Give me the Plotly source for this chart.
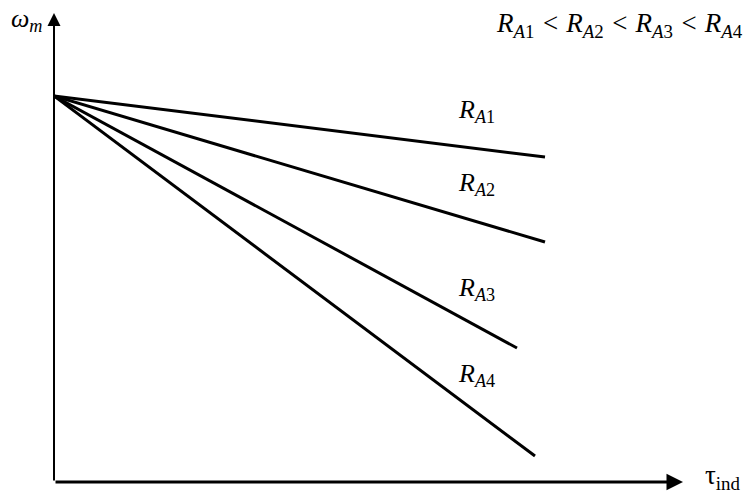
import plotly.graph_objects as go

# speed-torque characteristics of a shunt dc motor for four armature resistances
resistances = ['A1', 'A2', 'A3', 'A4']
tau_start = 0
omega_no_load = 386
tau_end = [491, 491, 463, 481]
omega_end = [325, 240, 134, 26]

# page body has an 8px margin, so the figure is a bit smaller than the window
W, H = 743, 486
ML, MB = 46, 12
x_max = W - ML
y_max = H - MB

serif = 'Liberation Serif'
lbl_font = dict(family=serif, size=26, color='black', style='italic')


def r_label(name):
    # italic A, upright digit, as in the textbook figure
    return ('R<sub>' + name[0] + '<span style="font-style:normal">'
            + name[1:] + '</span></sub>')


fig = go.Figure()
annotations = []

for name, te, we in zip(resistances, tau_end, omega_end):
    fig.add_trace(go.Scatter(
        x=[tau_start, te], y=[omega_no_load, we],
        mode='lines',
        line=dict(color='black', width=3),
        showlegend=False, hoverinfo='skip'
    ))
    # label sits above the line, near its right end
    lx = 422
    slope = (we - omega_no_load) / (te - tau_start)
    ly = omega_no_load + slope * (lx - tau_start) + 37
    annotations.append(dict(x=lx, y=ly, xref='x', yref='y',
                            text=r_label(name),
                            font=lbl_font, showarrow=False,
                            xanchor='center', yanchor='middle'))

# axes drawn as arrows
annotations.append(dict(x=0, y=469, ax=0, ay=0, xref='x', yref='y',
                        axref='x', ayref='y', text='', showarrow=True,
                        arrowhead=2, arrowsize=1.3, arrowwidth=2,
                        arrowcolor='black'))
annotations.append(dict(x=629, y=0, ax=0, ay=0, xref='x', yref='y',
                        axref='x', ayref='y', text='', showarrow=True,
                        arrowhead=2, arrowsize=1.1, arrowwidth=3,
                        arrowcolor='black'))

# axis titles (omega one sits left of the plot area, so paper coords)
annotations.append(dict(x=-27 / x_max, y=462 / y_max, xref='paper', yref='paper',
                        text='ω<sub>m</sub>', font=lbl_font,
                        showarrow=False, xanchor='center', yanchor='middle'))
annotations.append(dict(x=649, y=5, xref='x', yref='y',
                        text='τ<sub><span style="font-style:normal">ind</span></sub>',
                        font=dict(family=serif, size=27, color='black'),
                        showarrow=False, xanchor='left', yanchor='middle'))

# ordering note
annotations.append(dict(x=691, y=457, xref='x', yref='y',
                        text=' &lt; '.join(r_label(n) for n in resistances),
                        font=dict(family=serif, size=27, color='black', style='italic'),
                        showarrow=False, xanchor='right', yanchor='middle'))

fig.update_layout(
    width=W, height=H,
    margin=dict(l=ML, r=0, t=0, b=MB, autoexpand=False),
    paper_bgcolor='white', plot_bgcolor='white',
    xaxis=dict(range=[0, x_max], visible=False, fixedrange=True),
    yaxis=dict(range=[0, y_max], visible=False, fixedrange=True),
    annotations=annotations,
    showlegend=False
)

fig.write_html("out.html")
